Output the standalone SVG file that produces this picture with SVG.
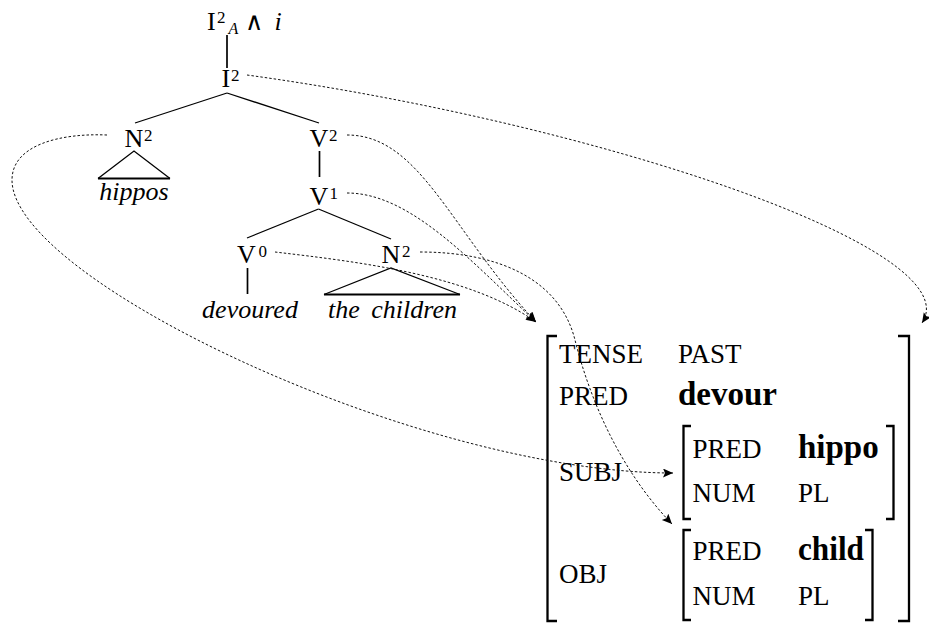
<svg xmlns="http://www.w3.org/2000/svg" width="929" height="623" viewBox="0 0 929 623">
<style>
text{font-family:"Liberation Serif","DejaVu Serif",serif;fill:#000}
.lb{font-size:26px}
.sup{font-size:17px}
.it{font-style:italic;font-size:26px}
.av{font-size:27px}
.bd{font-size:33px;font-weight:bold}
.tr{stroke:#000;stroke-width:1.3;fill:none}
.vt{stroke:#000;stroke-width:1.7;fill:none}
.base{stroke:#000;stroke-width:2.2;fill:none}
.br{stroke:#000;stroke-width:2.3;fill:none}
.dl{stroke:#111;stroke-width:1;stroke-dasharray:2.5 2;fill:none}
</style>
<defs>
<marker id="ah" markerUnits="userSpaceOnUse" markerWidth="12" markerHeight="10" refX="10" refY="4.5" orient="auto" viewBox="0 0 12 10">
<path d="M0,0 L10,4.5 L0,9 L2,4.5 Z" fill="#000"/>
</marker>
</defs>

<g id="tree-edges">
<line class="vt" x1="227" y1="35" x2="227" y2="68"/>
<line class="tr" x1="227" y1="93" x2="135" y2="123"/>
<line class="tr" x1="227" y1="93" x2="319" y2="123"/>
<line class="vt" x1="319.5" y1="151" x2="319.5" y2="177"/>
<line class="tr" x1="318.5" y1="209" x2="247" y2="238"/>
<line class="tr" x1="318.5" y1="209" x2="391" y2="239"/>
<line class="vt" x1="247.5" y1="268" x2="247.5" y2="294"/>
<path class="tr" d="M98,178.5 L134,151 L170,178.5"/>
<line class="base" x1="98" y1="178.5" x2="170" y2="178.5"/>
<path class="tr" d="M324,294.5 L391,268 L460,294.5"/>
<line class="base" x1="324" y1="294.5" x2="460" y2="294.5"/>
</g>

<g id="node-top">
<text class="lb" x="207" y="29.5">I</text>
<text class="sup" x="217" y="22.5">2</text>
<text x="228.5" y="33.5" style="font-size:16px;font-style:italic">A</text>
<text x="245" y="30" style="font-family:'DejaVu Serif',serif;font-size:25px">∧</text>
<text class="it" x="274.5" y="29.5">i</text>
</g>
<g id="node-I2">
<text class="lb" x="221.5" y="87">I</text>
<text class="sup" x="231" y="80.5">2</text>
</g>
<g id="node-N2-subj">
<text class="lb" x="124.5" y="147">N</text>
<text class="sup" x="144" y="140.5">2</text>
</g>
<g id="node-hippos"><text class="it" x="134" y="200" text-anchor="middle">hippos</text></g>
<g id="node-V2">
<text class="lb" x="309.5" y="147">V</text>
<text class="sup" x="329" y="140.5">2</text>
</g>
<g id="node-V1">
<text class="lb" x="309.5" y="205">V</text>
<text class="sup" x="329.5" y="198.5">1</text>
</g>
<g id="node-V0">
<text class="lb" x="237" y="263">V</text>
<text class="sup" x="258.5" y="256.5">0</text>
</g>
<g id="node-N2-obj">
<text class="lb" x="381.5" y="263">N</text>
<text class="sup" x="402" y="256.5">2</text>
</g>
<g id="node-devoured"><text class="it" x="250" y="318" text-anchor="middle">devoured</text></g>
<g id="node-children"><text class="it" x="392.5" y="318" text-anchor="middle" word-spacing="5">the children</text></g>

<g id="avm-outer">
<path class="br" d="M557,336 H547.5 V621 H557"/>
<path class="br" d="M898,336 H909 V621 H898"/>
<text class="av" x="559" y="363">TENSE</text>
<text class="av" x="678" y="363">PAST</text>
<text class="av" x="559" y="405">PRED</text>
<text class="bd" x="678" y="405">devour</text>
<text class="av" x="559" y="481">SUBJ</text>
<text class="av" x="559" y="583">OBJ</text>
</g>
<g id="avm-subj">
<path class="br" d="M691,426 H683.5 V519 H691"/>
<path class="br" d="M886,426 H893.5 V519 H886"/>
<text class="av" x="692.5" y="458">PRED</text>
<text class="bd" x="798" y="458">hippo</text>
<text class="av" x="692.5" y="502">NUM</text>
<text class="av" x="798" y="502">PL</text>
</g>
<g id="avm-obj">
<path class="br" d="M691,530 H683.5 V620 H691"/>
<path class="br" d="M865,530 H872.5 V620 H865"/>
<text class="av" x="692.5" y="560">PRED</text>
<text class="bd" x="798" y="560" textLength="66" lengthAdjust="spacingAndGlyphs">child</text>
<text class="av" x="692.5" y="605">NUM</text>
<text class="av" x="798" y="605">PL</text>
</g>

<g id="connectors">
<path class="dl" marker-end="url(#ah)" d="M247,75 C590,122 972,248 922,323"/>
<path class="dl" marker-end="url(#ah)" d="M107,135 C60,133 12,145 12,180 C12,280 420,473 673,473"/>
<path class="dl" marker-end="url(#ah)" d="M347,135 C420,135 450,230 536,322"/>
<path class="dl" marker-end="url(#ah)" d="M347,193 C410,193 470,260 536,322"/>
<path class="dl" marker-end="url(#ah)" d="M275,252 C360,262 470,275 536,322"/>
<path class="dl" marker-end="url(#ah)" d="M420,252 C500,252 560,280 575,340 C590,400 620,470 672,524"/>
</g>
</svg>
